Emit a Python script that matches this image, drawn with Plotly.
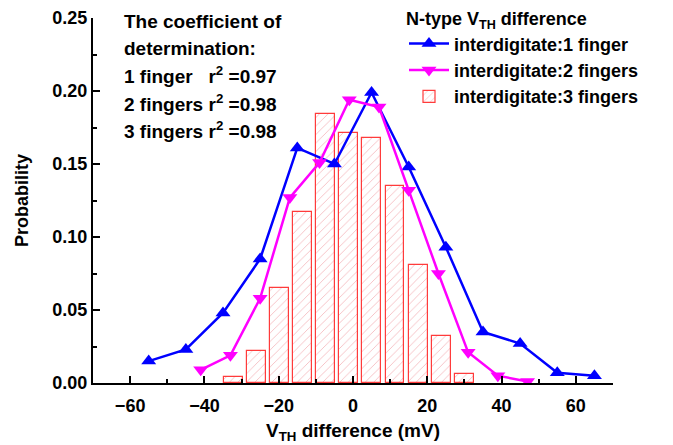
import plotly.graph_objects as go

# 1 finger (blue, up triangles)
x1 = [-55, -45, -35, -25, -15, -5, 5, 15, 25, 35, 45, 55, 65]
y1 = [0.015, 0.023, 0.048, 0.085, 0.161, 0.150, 0.199, 0.148, 0.093, 0.035, 0.027, 0.007, 0.005]

# 2 fingers (magenta, down triangles)
x2 = [-41, -33, -25, -17, -9, -1, 7, 15, 23, 31, 39, 47]
y2 = [0.009, 0.019, 0.058, 0.127, 0.151, 0.194, 0.189, 0.132, 0.075, 0.021, 0.005, 0.001]

# 3 fingers (hatched histogram bars)
x3 = [-32.2, -26.0, -19.8, -13.6, -7.4, -1.2, 5.0, 11.3, 17.6, 23.9, 30.1]
y3 = [0.004, 0.022, 0.065, 0.117, 0.184, 0.171, 0.168, 0.135, 0.081, 0.032, 0.006]

names = ["interdigitate:1 finger", "interdigitate:2 fingers", "interdigitate:3 fingers"]
notes = ["The coefficient of", "determination:",
         "1 finger\u00a0\u00a0\u00a0r<sup>2</sup> =0.97",
         "2 fingers r<sup>2</sup> =0.98",
         "3 fingers r<sup>2</sup> =0.98"]

FONT = "Liberation Sans, Arial, sans-serif"

fig = go.Figure()
fig.add_trace(go.Bar(
    x=x3, y=y3, name=names[2], width=5.1, legendrank=3,
    marker=dict(color="white", line=dict(color="#ff3b3b", width=1.2),
                pattern=dict(shape="/", fgcolor="rgba(235,110,120,0.9)",
                             bgcolor="white", size=6, solidity=0.15)),
))
fig.add_trace(go.Scatter(
    x=x1, y=y1, name=names[0], mode="lines+markers", legendrank=1,
    line=dict(color="#0000ff", width=2.5),
    marker=dict(symbol="triangle-up", size=13, color="#0000ff"),
))
fig.add_trace(go.Scatter(
    x=x2, y=y2, name=names[1], mode="lines+markers", legendrank=2,
    line=dict(color="#ff00ff", width=2.5),
    marker=dict(symbol="triangle-down", size=13, color="#ff00ff"),
))

# page body has an 8px margin: plot area spans x 93..613, y 18..383 in the window
ys_px = [22, 48, 75, 103, 130]
for t, py in zip(notes, ys_px):
    fig.add_annotation(x=(122 - 93) / 520, y=(383 - py) / 365, xref="paper", yref="paper",
                       text=t, showarrow=False, xanchor="left", yanchor="middle",
                       font=dict(family=FONT, size=19, color="black", weight="bold"))

axis_common = dict(showline=True, linecolor="black", linewidth=2, mirror=False,
                   ticks="inside", ticklen=7, tickwidth=2, tickcolor="black",
                   showgrid=False, zeroline=False, automargin=False,
                   tickfont=dict(family=FONT, size=18, color="black", weight="bold"))

fig.update_layout(
    width=665, height=437,
    margin=dict(l=85, r=60, t=10, b=62, autoexpand=False),
    plot_bgcolor="white", paper_bgcolor="white",
    bargap=0,
    xaxis=dict(range=[-70, 70], dtick=20, tick0=0, ticklabelstandoff=5,
               minor=dict(dtick=10, ticks="inside", ticklen=4, tickwidth=2, tickcolor="black"),
               title=dict(text="V<sub>TH</sub> difference (mV)", standoff=9,
                          font=dict(family=FONT, size=19, color="black", weight="bold")),
               **axis_common),
    yaxis=dict(range=[0, 0.25], dtick=0.05, tickformat=".2f",
               minor=dict(dtick=0.025, ticks="inside", ticklen=4, tickwidth=2, tickcolor="black"),
               title=dict(text="Probability", standoff=19,
                          font=dict(family=FONT, size=18, color="black", weight="bold")),
               **axis_common),
    legend=dict(x=(404 - 93) / 520, y=(383 - 2) / 365, xanchor="left", yanchor="top",
                bgcolor="rgba(0,0,0,0)", borderwidth=0,
                font=dict(family=FONT, size=18, color="black", weight="bold"),
                title=dict(text="N-type V<sub>TH</sub> difference",
                           font=dict(family=FONT, size=18, color="black", weight="bold")),
                traceorder="normal", itemwidth=40),
    showlegend=True,
)

fig.write_html("out.html")
